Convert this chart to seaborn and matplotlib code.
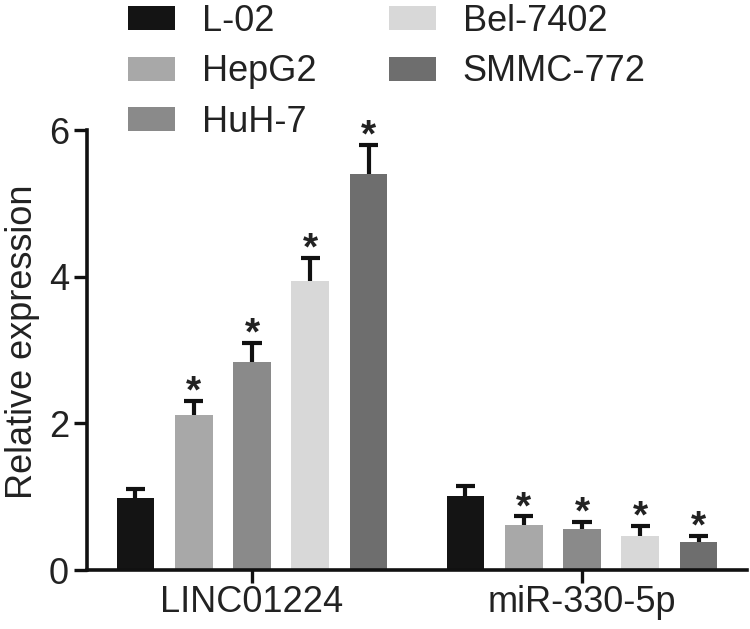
import pandas as pd
import matplotlib
matplotlib.use('Agg')
import matplotlib.pyplot as plt
import seaborn as sns

# values
genes = ['LINC01224', 'miR-330-5p']
cells = ['L-02', 'HepG2', 'HuH-7', 'Bel-7402', 'SMMC-772']
linc_mean = [0.98, 2.11, 2.84, 3.94, 5.40]
linc_err = [0.12, 0.20, 0.26, 0.32, 0.40]
mir_mean = [1.01, 0.61, 0.56, 0.46, 0.38]
mir_err = [0.13, 0.12, 0.10, 0.14, 0.09]
linc_star = [False, True, True, True, True]
mir_star = [False, True, True, True, True]
colors = ['#141414', '#a8a8a8', '#8a8a8a', '#d8d8d8', '#6e6e6e']

rows = []
for g, means in zip(genes, [linc_mean, mir_mean]):
    for c, m in zip(cells, means):
        rows.append({'gene': g, 'cell': c, 'value': m})
df = pd.DataFrame(rows)
errs = {genes[0]: linc_err, genes[1]: mir_err}
stars = {genes[0]: linc_star, genes[1]: mir_star}

sns.set_style('ticks')
plt.rcParams['font.family'] = ['Liberation Sans', 'DejaVu Sans']
plt.rcParams['text.color'] = '#222222'

fig = plt.figure(figsize=(7.5, 6.29), dpi=100)
ax = fig.add_axes([87 / 750, 59 / 629, 660 / 750, 440 / 629])

sns.barplot(data=df, x='gene', y='value', hue='cell', hue_order=cells,
            palette=dict(zip(cells, colors)), errorbar=None,
            width=0.883, gap=0.35, linewidth=0, ax=ax)

# error bars (upper only) and significance stars
bar_groups = list(ax.containers)
for i, cont in enumerate(bar_groups):
    for j, bar in enumerate(cont.patches):
        g = genes[j]
        xc = bar.get_x() + bar.get_width() / 2
        h = bar.get_height()
        e = errs[g][i]
        ax.vlines(xc, h, h + e, color='#111111', lw=3, zorder=0.5)
        ax.hlines(h + e, xc - 0.029, xc + 0.029, color='#111111', lw=3, zorder=0.5)
        if stars[g][i]:
            ax.annotate('*', (xc, h + e), xytext=(0, -7), textcoords='offset points',
                        ha='center', va='bottom', fontsize=28, fontweight='bold',
                        color='#222222')

ax.set_xlim(-0.5, 1.5)
ax.set_ylim(0, 6.0)
ax.set_yticks([0, 2, 4, 6])
ax.set_xlabel('')
ax.set_ylabel('Relative expression', fontsize=26, color='#222222')
ax.yaxis.set_label_coords(-0.071, 0.518)
ax.tick_params(axis='both', labelsize=26, colors='#111111', labelcolor='#222222',
               width=2.4, length=9.5)
ax.tick_params(axis='x', pad=1)
sns.despine(ax=ax)
for s in ['left', 'bottom']:
    ax.spines[s].set_linewidth(2.6)
    ax.spines[s].set_color('#111111')
    ax.spines[s].set_clip_on(False)

handles, labels = ax.get_legend_handles_labels()
ax.legend(handles, labels, ncol=2, frameon=False, fontsize=26,
          loc='upper left', bbox_to_anchor=(128 / 750, 0.994),
          bbox_transform=fig.transFigure, borderpad=0, borderaxespad=0,
          handlelength=1.3, handleheight=0.64, handletextpad=0.75,
          labelspacing=0.43, columnspacing=2.0)

fig.savefig('out.png', dpi=100)
